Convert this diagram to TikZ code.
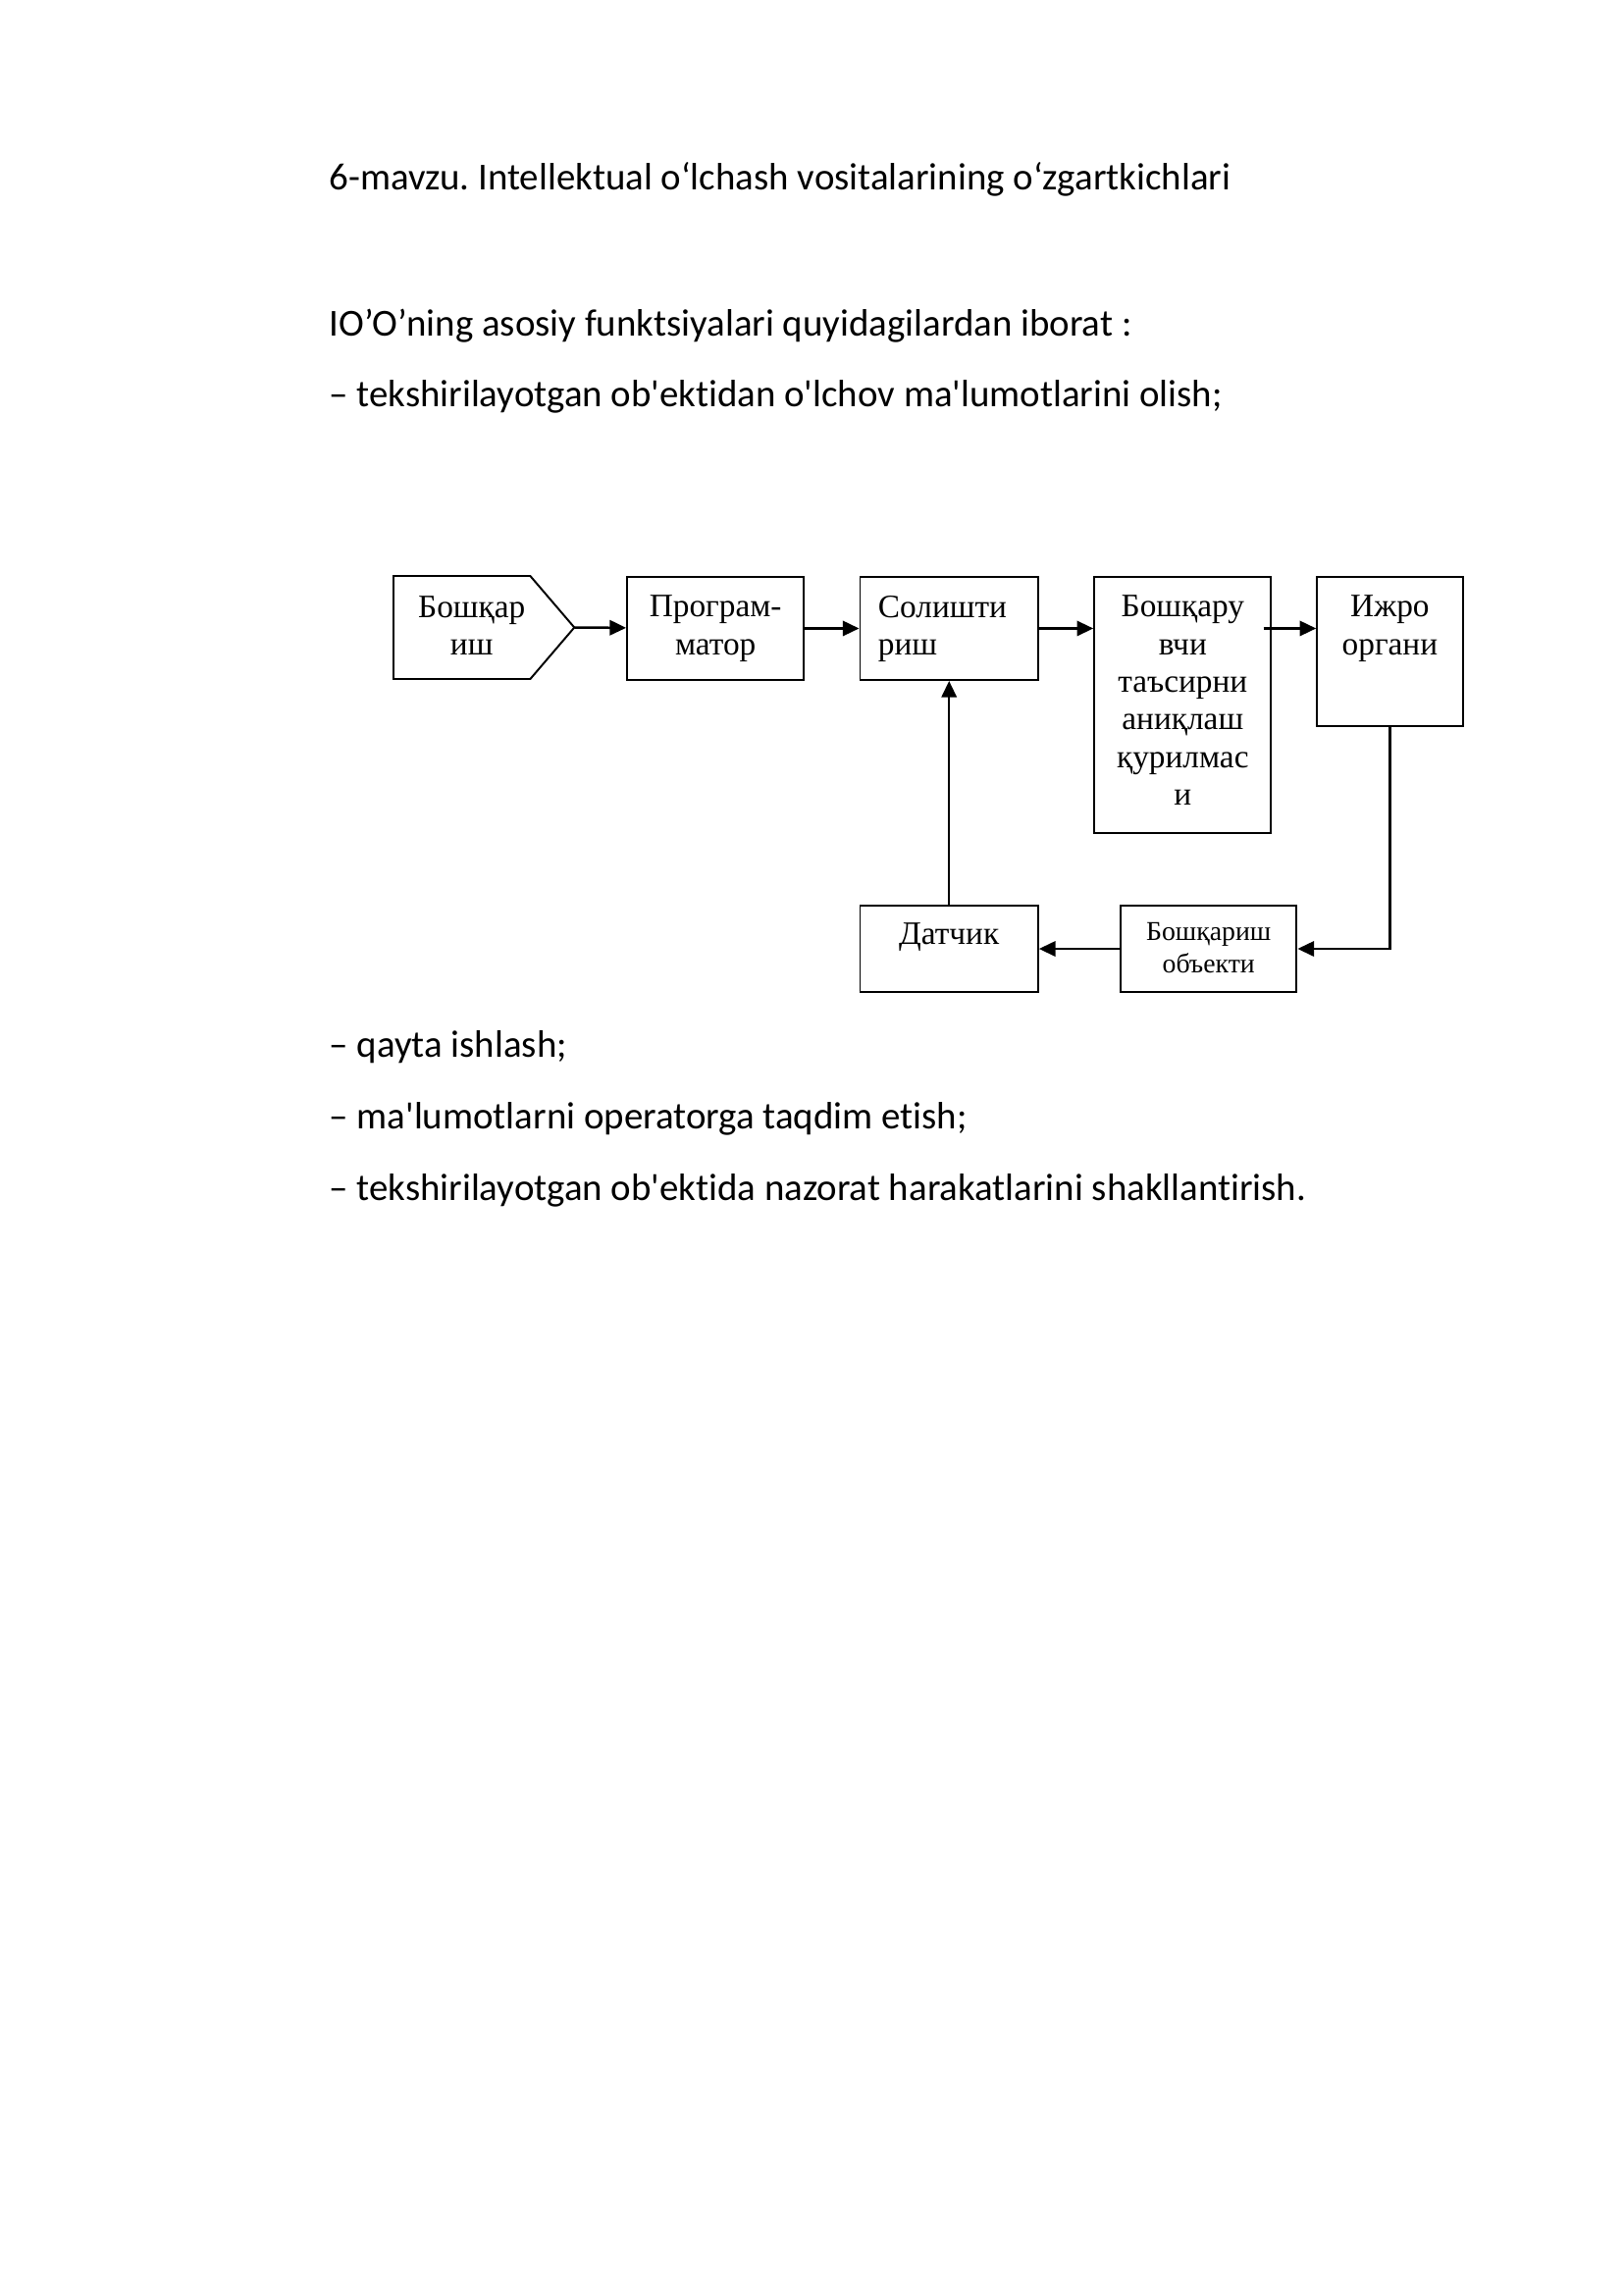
\documentclass[tikz,border=0pt]{standalone}
\usepackage{fontspec}
\setmainfont{Carlito}[Ligatures=CommonOff]
\newfontfamily\tnr{Liberation Serif}
\usetikzlibrary{arrows.meta}
\frenchspacing
\begin{document}
\begin{tikzpicture}[x=0.36pt, y=-0.36pt,
		blok/.style={draw, line width=0.7pt, inner sep=0, anchor=north},
		yozuv/.style={inner sep=0, align=center, anchor=north, font=\tnr\fontsize{12}{13.8}\selectfont},
		strelka/.style={line width=0.9pt, -{Triangle[length=6pt, width=5.5pt]}}]
	\fill[white] (0,0) rectangle (1654,2339);
	\useasboundingbox (0,0) rectangle (1654,2339);
	% matn
	\foreach \y/\t [count=\i] in {193/{6-mavzu. Intellektual o‘lchash vositalarining o‘zgartkichlari},
			342/{IO’O’ning asosiy funktsiyalari quyidagilardan iborat :},
			414/{– tekshirilayotgan ob\textquotesingle ektidan o\textquotesingle lchov ma\textquotesingle lumotlarini olish;},
			1077/{– qayta ishlash;},
			1150/{– ma\textquotesingle lumotlarni operatorga taqdim etish;},
			1223/{– tekshirilayotgan ob\textquotesingle ektida nazorat harakatlarini shakllantirish.}}
		{
			\node[anchor=base west, inner sep=0, font=\fontsize{14}{16}\selectfont] (qator\i) at (335,\y){\t};
		}
	% sxema
	\draw[line width=0.7pt] (401,587) -- (540.4,587) -- (585.3,639.5) -- (540.4,692) -- (401,692) -- cycle;
	\coordinate (uch) at (585.3,639.5);
	\node[yozuv] (boshqar) at (480.7,607){Бошқар\\иш};
	\node[blok, minimum width=64.9pt, minimum height=37.8pt] (programmator) at (729.2,587){};
	\node[blok, minimum width=65.3pt, minimum height=37.8pt] (solish) at (967.2,587){};
	\node[blok, minimum width=64.9pt, minimum height=94pt] (bv) at (1205.3,587){};
	\node[blok, minimum width=53.4pt, minimum height=54.7pt] (ijro) at (1416.4,587){};
	\node[blok, minimum width=65.3pt, minimum height=31.7pt] (datchik) at (967.2,922){};
	\node[blok, minimum width=64.6pt, minimum height=31.7pt] (obyekt) at (1231.7,922){};
	\node[yozuv] (programmatorM) at ([yshift=-7pt]programmator.north){Програм-\\матор};
	\node[yozuv, align=left, anchor=north west] (solishM) at ([xshift=6.8pt, yshift=-7pt]solish.north west){Солишти\\риш};
	\node[yozuv] (bvM) at ([yshift=-7pt]bv.north){Бошқару\\вчи\\таъсирни\\аниқлаш\\қурилмас\\и};
	\node[yozuv] (ijroM) at ([yshift=-7pt]ijro.north){Ижро\\органи};
	\node[yozuv] (datchikM) at ([yshift=-6.5pt]datchik.north){Датчик};
	\node[yozuv, font=\tnr\fontsize{10}{11.9}\selectfont] (obyektM) at ([yshift=-6.3pt]obyekt.north){Бошқариш\\объекти};
	% strelkalar
	\draw[strelka] (uch) -- (programmator);
	\draw[strelka] (programmator) -- (solish);
	\draw[strelka] (solish.east) -- (solish.east -| bv.west);
	\draw[strelka] ([xshift=-3.2pt]bv.east |- solish.east) -- (ijro.west |- solish.east);
	\draw[strelka] (ijro.south) |- (obyekt.east);
	\draw[strelka] (obyekt) -- (datchik);
	\draw[strelka] (datchik) -- (solish);
\end{tikzpicture}
\end{document}
